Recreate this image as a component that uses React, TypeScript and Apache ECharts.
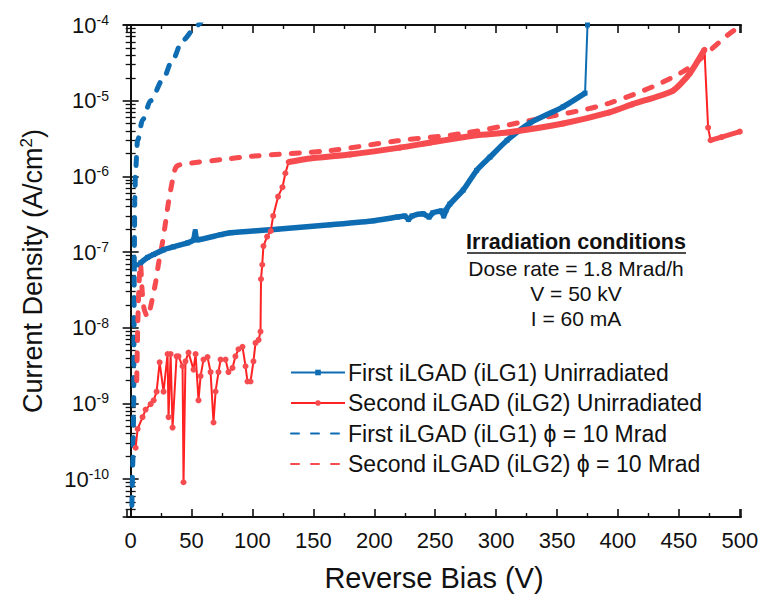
import React, { useEffect, useRef } from 'react';
import * as echarts from 'echarts';

const FONT = '"Liberation Sans", Arial, Helvetica, sans-serif';

// ---- data: [reverse bias (V), current density (A/cm^2)] ----
const iLG1Unirradiated: number[][] = [
  [3, 6.0e-8], [5, 6.8e-8], [8.2, 7.2e-8], [13.9, 8.5e-8], [18.9, 9.3e-8], [27, 1.07e-7],
  [35, 1.17e-7], [46.7, 1.32e-7], [51.6, 1.45e-7], [53, 1.86e-7], [54.5, 1.45e-7], [74, 1.7e-7],
  [82, 1.8e-7], [120, 2.0e-7], [164, 2.3e-7], [200, 2.6e-7], [219, 2.9e-7], [225, 3.0e-7],
  [228, 2.7e-7], [231, 3.0e-7], [240, 3.2e-7], [245, 2.9e-7], [248, 3.3e-7], [255, 3.5e-7],
  [257, 3.0e-7], [259, 3.6e-7], [262, 4.3e-7], [273, 6.6e-7], [284, 1.2e-6], [295, 1.8e-6],
  [309, 3.0e-6], [328, 5.1e-6], [355, 8.3e-6], [373, 1.26e-5], [375, 1.0e-4],
];

const iLG2Unirradiated: number[][] = [
  [4.1, 2.6e-10], [5.7, 4.6e-10], [9.8, 6.6e-10], [12.3, 8.3e-10], [16.4, 9.8e-10], [18.9, 1.1e-9],
  [21.3, 1.43e-9], [23.8, 3.5e-9], [27, 1.43e-9], [30.3, 4.5e-9], [31.1, 6.6e-10], [32.8, 4.5e-9],
  [34.4, 4.8e-10], [37.7, 4.2e-9], [39.3, 4.2e-9], [42.6, 3.1e-9], [43.4, 9.1e-11], [45, 3.6e-9],
  [47.5, 4.7e-9], [51.6, 2.8e-9], [53.3, 4.5e-9], [55.7, 1.1e-9], [57.4, 2.3e-9], [59.8, 3.8e-9],
  [63.1, 4.1e-9], [65.6, 2.6e-9], [68, 5.6e-10], [69.7, 1.44e-9], [72.1, 2.6e-9], [73.8, 3.8e-9],
  [77.9, 3.8e-9], [80.3, 2.6e-9], [83.6, 2.95e-9], [86, 4.2e-9], [88.5, 5.2e-9], [91.8, 5.6e-9],
  [94.3, 3.1e-9], [95.9, 1.95e-9], [98.4, 1.95e-9], [100.8, 3.6e-9], [102.5, 6.3e-9], [105, 6.9e-9],
  [106.6, 8.9e-9], [107, 4.4e-8], [108, 6.8e-8], [109, 1.2e-7], [112, 1.6e-7], [115, 1.9e-7],
  [117, 3.0e-7], [121, 5.4e-7], [124.6, 7.2e-7], [127, 1.1e-6], [129.7, 1.55e-6], [150, 1.75e-6],
  [180, 1.95e-6], [221, 2.4e-6], [246, 2.8e-6], [284, 3.5e-6], [309, 3.8e-6], [355, 5.0e-6],
  [393, 7.0e-6], [412, 9.0e-6], [445, 1.35e-5], [459, 2.3e-5], [471, 4.7e-5], [474, 4.4e-6],
  [476, 3.0e-6], [485, 3.3e-6], [500, 3.9e-6],
];

const iLG1Irradiated: number[][] = [
  [1.0, 4.5e-11], [2.0, 2e-10], [2.5, 1e-9], [2.8, 1e-8], [3.0, 1e-7], [3.4, 5e-7], [4.0, 1.2e-6],
  [5.7, 3e-6], [9.8, 5.6e-6], [16.4, 1e-5], [26.2, 1.87e-5], [34.4, 3.46e-5], [42.6, 6.3e-5],
  [55, 1e-4], [60, 1.25e-4],
];

const iLG2Irradiated: number[][] = [
  [5, 2e-9], [5.8, 1e-8], [6.8, 3.5e-8], [8, 7e-8], [9.5, 3e-8], [11, 1.8e-8], [13.9, 1.4e-8],
  [16.4, 1.9e-8], [20.5, 4e-8], [23, 7.2e-8], [26, 1.3e-7], [28.7, 2.5e-7], [31, 4.5e-7],
  [34, 8.3e-7], [36.5, 1.25e-6], [39, 1.4e-6], [50, 1.5e-6], [74, 1.66e-6], [100, 1.85e-6],
  [164, 2.2e-6], [219, 2.95e-6], [273, 3.7e-6], [328, 5.5e-6], [393, 9.3e-6], [453, 2.4e-5],
  [492, 7.8e-5], [500, 9.5e-5],
];

const seriesNames = [
  'First iLGAD (iLG1) Unirradiated',
  'Second iLGAD (iLG2) Unirradiated',
  'First iLGAD (iLG1) \u03d5 = 10 Mrad',
  'Second iLGAD (iLG2) \u03d5 = 10 Mrad',
];

const annotationLines = ['Dose rate = 1.8 Mrad/h', 'V = 50 kV', 'I = 60 mA'];
const annotationTitle = 'Irradiation conditions';

// axis ranges
const X_MIN = -3;
const X_MAX = 501;
const Y_MIN = 3.1623e-11;
const Y_MAX = 1e-4;

const BLUE = '#0e6cb3';
const RED = '#ff2222';
const RED_LIGHT = '#f64b4f';

const range = (d: number[][], lo: number, hi: number) => d.filter((p) => p[0] >= lo && p[0] <= hi);

export default function App() {
  const ref = useRef<HTMLDivElement>(null);
  useEffect(() => {
    if (!ref.current) return;
    const chart = echarts.init(ref.current, undefined, { renderer: 'svg' });

    const yLabel = (v: number) => {
      const e = Math.log10(v);
      const r = Math.round(e);
      if (Math.abs(e - r) > 1e-3) return '';
      return `{b|10}{s|${r}}`;
    };

    const axisLine = { show: true, lineStyle: { color: '#111', width: 2 } };
    const xCommon = {
      type: 'value' as const,
      min: X_MIN,
      max: X_MAX,
      splitNumber: 10,
      axisLine,
      axisTick: { show: true, inside: true, length: 8, lineStyle: { color: '#111', width: 1.6 } },
      minorTick: { show: true, splitNumber: 2, length: 4, lineStyle: { color: '#111', width: 1.4 } },
      splitLine: { show: false },
      minorSplitLine: { show: false },
    };
    const yCommon = {
      type: 'log' as const,
      logBase: 10,
      min: Y_MIN,
      max: Y_MAX,
      splitNumber: 7,
      axisLine,
      axisTick: { show: true, inside: true, length: 8, lineStyle: { color: '#111', width: 1.6 } },
      minorTick: { show: true, splitNumber: 9, length: 5, lineStyle: { color: '#111', width: 1.3 } },
      splitLine: { show: false },
      minorSplitLine: { show: false },
    };

    chart.setOption({
      animation: false,
      backgroundColor: '#fff',
      grid: { left: 127, right: 22, top: 25, bottom: 79, containLabel: false },
      xAxis: [
        {
          ...xCommon,
          position: 'bottom',
          name: 'Reverse Bias (V)',
          nameLocation: 'middle',
          nameGap: 46,
          nameTextStyle: { fontSize: 29, fontFamily: FONT, color: '#111' },
          axisLabel: {
            margin: 12,
            fontSize: 22,
            fontFamily: FONT,
            color: '#111',
            formatter: (v: number) => (v >= 0 && v % 50 === 0 ? String(v) : ''),
          },
        },
        { ...xCommon, position: 'top', axisLabel: { show: false } },
      ],
      yAxis: [
        {
          ...yCommon,
          position: 'left',
          name: '{t|Current Density (A/cm}{s|2}{t|)}',
          nameLocation: 'middle',
          nameGap: 80,
          nameTextStyle: {
            color: '#111',
            rich: {
              t: { fontSize: 27, fontFamily: FONT, color: '#111' },
              s: { fontSize: 17, fontFamily: FONT, color: '#111', padding: [0, 0, 12, 0] },
            },
          },
          axisLabel: {
            margin: 18,
            formatter: yLabel,
            rich: {
              b: { fontSize: 22, fontFamily: FONT, color: '#111' },
              s: { fontSize: 14, fontFamily: FONT, color: '#111', padding: [0, 0, 10, 0] },
            },
          },
        },
        { ...yCommon, position: 'right', axisLabel: { show: false } },
      ],
      legend: {
        data: [
          { name: seriesNames[0] },
          { name: seriesNames[1] },
          { name: seriesNames[2], itemStyle: { opacity: 0 } },
          { name: seriesNames[3], itemStyle: { opacity: 0 } },
        ],
        orient: 'vertical',
        left: 290,
        top: 361,
        padding: 0,
        itemWidth: 54,
        itemHeight: 7,
        itemGap: 7.5,
        textStyle: { fontSize: 23, fontFamily: FONT, color: '#111', padding: [0, 0, 0, -2] },
      },
      graphic: [
        {
          type: 'text',
          x: 576,
          y: 242,
          style: {
            text: annotationTitle,
            font: `bold 21.5px ${FONT}`,
            fill: '#111',
            textAlign: 'center',
            textVerticalAlign: 'middle',
          },
        },
        {
          type: 'line',
          shape: { x1: 467, y1: 253, x2: 686, y2: 253 },
          style: { stroke: '#111', lineWidth: 1.5 },
        },
        ...annotationLines.map((t, i) => ({
          type: 'text',
          x: 576,
          y: 268 + i * 25,
          style: {
            text: t,
            font: `21px ${FONT}`,
            fill: '#111',
            textAlign: 'center',
            textVerticalAlign: 'middle',
          },
        })),
      ],
      series: [
        {
          type: 'line',
          name: seriesNames[0],
          data: iLG1Unirradiated,
          color: BLUE,
          lineStyle: { color: BLUE, width: 2 },
          symbol: 'rect',
          symbolSize: 5,
          itemStyle: { color: BLUE },
          z: 3,
        },
        {
          type: 'line',
          name: 'iLG1 band',
          data: range(iLG1Unirradiated, 8, 373),
          lineStyle: { color: BLUE, width: 5.5 },
          symbol: 'none',
          smooth: 0.2,
          z: 3,
        },
        {
          type: 'line',
          name: seriesNames[1],
          data: iLG2Unirradiated,
          color: RED,
          lineStyle: { color: RED, width: 2 },
          symbol: 'circle',
          symbolSize: 6,
          itemStyle: { color: RED_LIGHT },
          z: 4,
        },
        {
          type: 'line',
          name: 'iLG2 band',
          data: range(iLG2Unirradiated, 129, 471),
          lineStyle: { color: RED_LIGHT, width: 6 },
          symbol: 'none',
          smooth: 0.2,
          z: 4,
        },
        {
          type: 'line',
          name: 'iLG2 band end',
          data: range(iLG2Unirradiated, 476, 500),
          lineStyle: { color: RED_LIGHT, width: 5 },
          symbol: 'none',
          z: 4,
        },
        {
          type: 'line',
          name: seriesNames[2],
          data: iLG1Irradiated,
          color: BLUE,
          lineStyle: { color: BLUE, width: 5, type: [8, 12], cap: 'round' },
          symbol: 'none',
          smooth: 0.3,
          smoothMonotone: 'x',
          z: 2,
        },
        {
          type: 'line',
          name: seriesNames[3],
          data: iLG2Irradiated,
          color: RED_LIGHT,
          lineStyle: { color: RED_LIGHT, width: 5, type: [8, 12], cap: 'round' },
          symbol: 'none',
          smooth: 0.3,
          z: 2,
        },
      ],
    });

    return () => chart.dispose();
  }, []);

  return (
    <div
      ref={ref}
      style={{ position: 'fixed', left: 0, top: 0, width: 763, height: 597, background: '#fff' }}
    />
  );
}
